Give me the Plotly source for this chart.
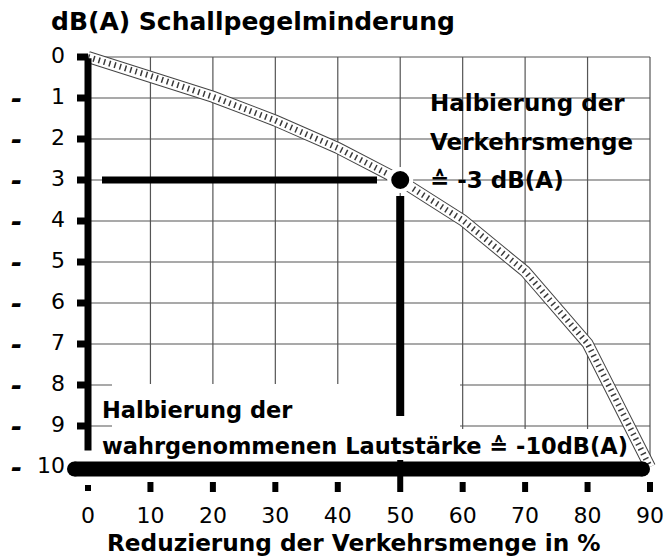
import plotly.graph_objects as go

# ---------------- data ----------------
reduction_pct = [0, 10, 20, 30, 40, 50, 60, 70, 80, 90]
db_reduction = [0.0, 0.46, 0.97, 1.55, 2.22, 3.01, 3.98, 5.23, 6.99, 10.0]

x_ticks = [0, 10, 20, 30, 40, 50, 60, 70, 80, 90]
x_tick_labels = ["0", "10", "20", "30", "40", "50", "60", "70", "80", "90"]
y_ticks = [0, 1, 2, 3, 4, 5, 6, 7, 8, 9, 10]
y_tick_labels = ["0", "1", "2", "3", "4", "5", "6", "7", "8", "9", "10"]

half_traffic_pct = 50
half_traffic_db = 3
perceived_half_db = 10

title_text = "dB(A) Schallpegelminderung"
x_title_text = "Reduzierung der Verkehrsmenge in %"
note_right = ["Halbierung der", "Verkehrsmenge", "≙ -3 dB(A)"]
note_bottom = ["Halbierung der", "wahrgenommenen Lautstärke ≙ -10dB(A)"]

# ---------------- geometry ----------------
W, H = 669, 558
X0PX, X90PX = 88, 650
Y0PX, Y10PX = 57, 467
SX = (X90PX - X0PX) / 90.0
SY = (Y10PX - Y0PX) / 10.0
ML, MR, MT, MB = 57, 7, 37, 60
PW = W - ML - MR
PH = H - MT - MB


def dx(px):
    return (px - X0PX) / SX


def dy(py):
    return (py - Y0PX) / SY


def xp(px):
    return (px - ML) / PW


def yp(py):
    return (H - MB - py) / PH


X_RANGE = [dx(ML), dx(W - MR)]
Y_RANGE = [dy(H - MB), dy(MT)]

FONT = "DejaVu Sans"
BLACK = "#000000"

fig = go.Figure()

# y tick labels as a text trace (drawn first so the bars can overlap them)
fig.add_trace(go.Scatter(x=[dx(65)] * len(y_ticks), y=y_ticks, text=y_tick_labels,
                         mode="text", textposition="middle left",
                         textfont=dict(family=FONT, size=22, color=BLACK),
                         cliponaxis=False, hoverinfo="skip"))

# hatched band (curve)
fig.add_trace(go.Scatter(x=reduction_pct, y=db_reduction, mode="lines",
                         line=dict(color="#444444", width=12), hoverinfo="skip"))
fig.add_trace(go.Scatter(x=reduction_pct, y=db_reduction, mode="lines",
                         line=dict(color="white", width=10), hoverinfo="skip"))
fig.add_trace(go.Scatter(x=reduction_pct, y=db_reduction, mode="lines",
                         line=dict(color="#3a3a3a", width=6, dash="1.5px,4px"),
                         hoverinfo="skip"))

# y tick marks (short thick bars left of the axis)
tx, ty = [], []
for v in y_ticks[:-1]:
    tx += [dx(77), 0, None]
    ty += [v, v, None]
fig.add_trace(go.Scatter(x=tx, y=ty, mode="lines",
                         line=dict(color=BLACK, width=7), hoverinfo="skip"))

# left thick vertical axis bar
fig.add_trace(go.Scatter(x=[0, 0], y=[0.03, 9.6], mode="lines",
                         line=dict(color=BLACK, width=7), hoverinfo="skip"))

# x tick marks below the bottom bar
bx, by = [], []
for v in x_ticks:
    if v == 0:
        bx += [v, v, None]
        by += [dy(485), dy(491), None]
    elif v == half_traffic_pct:
        bx += [v, v, None]
        by += [dy(460), dy(492), None]
    else:
        bx += [v, v, None]
        by += [dy(482), dy(492), None]
fig.add_trace(go.Scatter(x=bx, y=by, mode="lines",
                         line=dict(color=BLACK, width=6), hoverinfo="skip"))

# bottom thick bar at -10 dB(A)
fig.add_trace(go.Scatter(x=[dx(74.5), dx(642.5)],
                         y=[perceived_half_db + 0.05, perceived_half_db + 0.05],
                         mode="lines+markers",
                         line=dict(color=BLACK, width=15),
                         marker=dict(color=BLACK, size=15, symbol="circle"),
                         hoverinfo="skip"))

# -3 dB(A) guide lines
fig.add_trace(go.Scatter(x=[dx(102), dx(377)], y=[half_traffic_db, half_traffic_db],
                         mode="lines", line=dict(color=BLACK, width=7), hoverinfo="skip"))
fig.add_trace(go.Scatter(x=[half_traffic_pct, half_traffic_pct], y=[dy(196), dy(416)],
                         mode="lines", line=dict(color=BLACK, width=8), hoverinfo="skip"))

# marker dot at 50 % / -3 dB(A)
fig.add_trace(go.Scatter(x=[half_traffic_pct], y=[half_traffic_db], mode="markers",
                         marker=dict(color=BLACK, size=22,
                                     line=dict(color="white", width=4)),
                         hoverinfo="skip"))

# ---------------- shapes (grid + white boxes) ----------------
shapes = []
for v in x_ticks[1:]:
    shapes.append(dict(type="line", xref="x", yref="y", x0=v, x1=v, y0=0, y1=10,
                       line=dict(color="#555555", width=1.2), layer="below"))
for v in y_ticks[:-1]:
    shapes.append(dict(type="line", xref="x", yref="y", x0=0, x1=90, y0=v, y1=v,
                       line=dict(color="#555555", width=1.2), layer="below"))
shapes.append(dict(type="rect", xref="x", yref="y", x0=dx(112), x1=dx(460),
                   y0=dy(384), y1=dy(462), fillcolor="white", line=dict(width=0),
                   layer="below"))
shapes.append(dict(type="rect", xref="x", yref="y", x0=dx(112), x1=dx(633),
                   y0=dy(429), y1=dy(462), fillcolor="white", line=dict(width=0),
                   layer="below"))

# ---------------- annotations ----------------
ann = []
for v in y_ticks[1:]:
    ann.append(dict(x=xp(16), y=yp(Y0PX + v * SY), xref="paper", yref="paper",
                    text="-", showarrow=False, xanchor="center", yanchor="middle",
                    font=dict(family=FONT, size=27, color=BLACK, weight="bold",
                              style="italic")))
for line, py in zip(note_right, [103, 142, 180]):
    ann.append(dict(x=xp(428), y=yp(py), xref="paper", yref="paper", text=line,
                    showarrow=False, xanchor="left", yanchor="middle",
                    font=dict(family=FONT, size=23, color=BLACK, weight="bold")))
for line, py in zip(note_bottom, [410, 446]):
    ann.append(dict(x=xp(100), y=yp(py), xref="paper", yref="paper", text=line,
                    showarrow=False, xanchor="left", yanchor="middle",
                    font=dict(family=FONT, size=22.5, color=BLACK, weight="bold")))
ann.append(dict(x=xp(353.5), y=yp(542), xref="paper", yref="paper", text=x_title_text,
                showarrow=False, xanchor="center", yanchor="middle",
                font=dict(family=FONT, size=23.2, color=BLACK, weight="bold")))
ann.append(dict(x=xp(49), y=yp(22), xref="paper", yref="paper", text=title_text,
                showarrow=False, xanchor="left", yanchor="middle",
                font=dict(family=FONT, size=25, color=BLACK, weight="bold")))

fig.update_layout(
    width=W, height=H,
    margin=dict(l=ML, r=MR, t=MT, b=MB, pad=0),
    paper_bgcolor="white", plot_bgcolor="white",
    showlegend=False,
    shapes=shapes,
    annotations=ann,
    font=dict(family=FONT, color=BLACK),
    xaxis=dict(range=X_RANGE, tickvals=x_ticks, ticktext=x_tick_labels,
               showgrid=False, zeroline=False, showline=False, ticks="",
               tickfont=dict(family=FONT, size=22, color=BLACK),
               ticklabelstandoff=2, automargin=False, fixedrange=True),
    yaxis=dict(range=Y_RANGE, showticklabels=False,
               showgrid=False, zeroline=False, showline=False, ticks="",
               automargin=False, fixedrange=True),
)

fig.write_html("out.html", config={"displayModeBar": False},
               post_script="document.body.style.margin='0';document.body.style.overflow='hidden';")
